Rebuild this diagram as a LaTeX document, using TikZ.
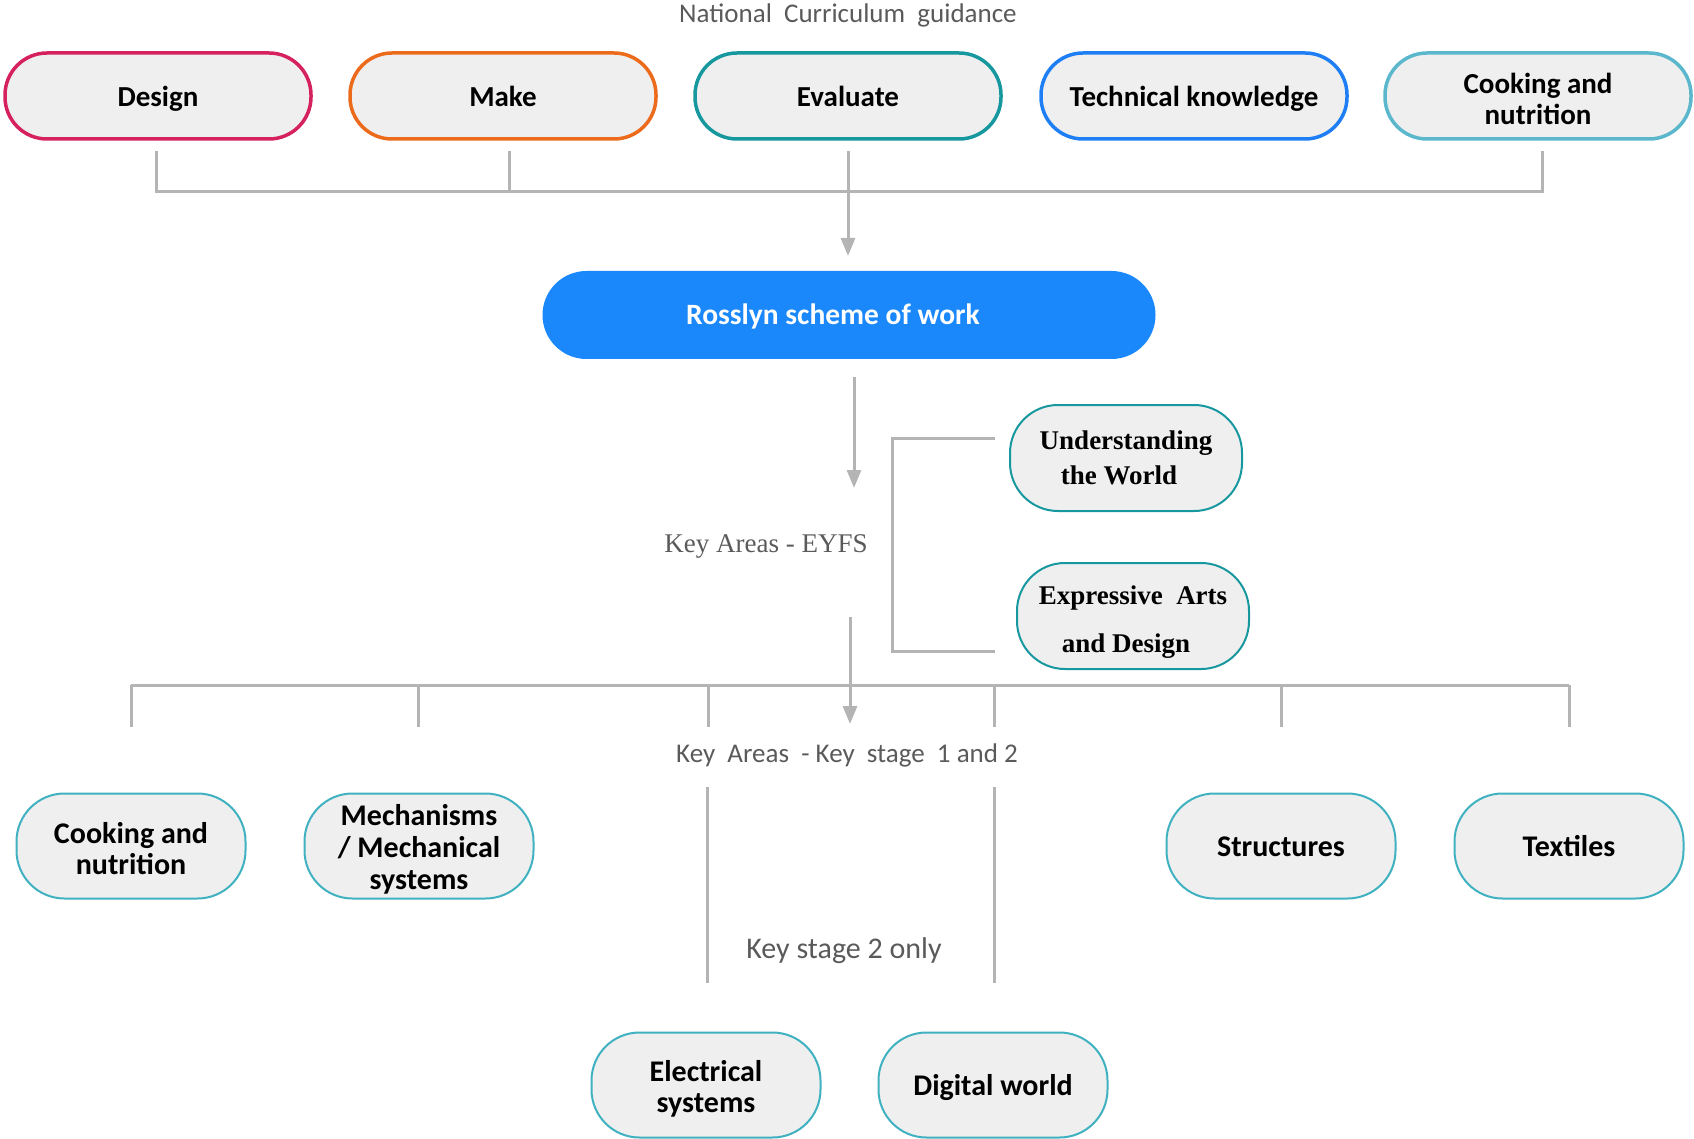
\documentclass[tikz,border=0pt]{standalone}
\usepackage{fontspec}
\setmainfont{Carlito}
\newfontfamily\timesf{Liberation Serif}
\usetikzlibrary{arrows.meta}
\definecolor{cDesign}{HTML}{D6215F}
\definecolor{cMake}{HTML}{EC6A1C}
\definecolor{cEval}{HTML}{17989F}
\definecolor{cTech}{HTML}{1E7FF5}
\definecolor{cCook}{HTML}{5AB7CC}
\definecolor{cBot}{HTML}{3FB1C0}
\definecolor{cFill}{HTML}{EFEFEF}
\definecolor{cRoss}{HTML}{1A88FA}
\definecolor{cLine}{HTML}{B4B4B4}
\definecolor{cText}{HTML}{5A5A5A}
\newcommand\myst[1]{\rule{0pt}{#1pt}}
\newcommand\mypad[1]{\rule{#1pt}{0pt}}
\tikzset{
  topbox/.style={draw, line width=3.5pt, fill=cFill, rounded corners=42pt,
    minimum width=306pt, minimum height=86pt, align=center,
    font=\fontsize{29}{30.5}\selectfont\bfseries, inner sep=0pt},
  oneline/.style={text height=26pt, text depth=5pt},
  botbox/.style={draw=cBot, line width=2pt, fill=cFill, rounded corners=48pt,
    minimum width=229pt, minimum height=105pt, align=center,
    font=\fontsize{30}{31}\selectfont\bfseries, inner sep=0pt},
  eyfsbox/.style={draw=cEval, line width=2pt, fill=cFill, rounded corners=48pt,
    minimum width=232pt, minimum height=106pt, align=center, inner sep=0pt},
  conn/.style={draw=cLine, line width=3pt},
  arr/.style={conn, -{Triangle[width=14pt,length=18pt]}, fill=cLine},
  greytext/.style={text=cText, font=\fontsize{27}{31}\selectfont, inner sep=0pt},
}
\begin{document}
\begin{tikzpicture}[x=1pt,y=-1pt]
\useasboundingbox (0,0) rectangle (1694,1139);
% title
\node[greytext] (nc) at (848,15) {National\ \ Curriculum\ \ guidance};
% top row
\node[topbox, oneline, draw=cDesign] (design) at (158,96) {Design};
\node[topbox, oneline, draw=cMake] (make) at (503,96) {Make};
\node[topbox, oneline, draw=cEval] (evaluate) at (848,96) {Evaluate};
\node[topbox, oneline, draw=cTech] (tech) at (1194,96) {Technical knowledge};
\node[topbox, draw=cCook] (cooktop) at (1538,96) {\myst{26}Cooking and\\nutrition};
% rosslyn
\node[fill=cRoss, rounded corners=44pt, minimum width=613pt, minimum height=88pt,
  text=white, font=\fontsize{29.5}{31}\selectfont\bfseries, inner sep=0pt,
  text height=25pt, text depth=5pt] (ross) at (849,315) {Rosslyn scheme of work\mypad{32}};
% top connectors
\coordinate (dA) at (156,151); \coordinate (dB) at (156,192);
\coordinate (mA) at (509,151); \coordinate (mB) at (509,192);
\coordinate (eA) at (848,151);
\coordinate (cA) at (1542,151); \coordinate (cB) at (1542,192);
\coordinate (rTip) at (848,256);
\draw[conn] (dA) -- (dB) -- (cB) -- (cA);
\draw[conn] (mA) -- (mB);
\draw[arr] (eA) -- (rTip);
% EYFS
\coordinate (r1) at (854,377); \coordinate (r2) at (854,488);
\draw[arr] (r1) -- (r2);
\node[greytext, font=\fontsize{27}{31}\selectfont\timesf] (eyfs) at (766,546) {Key Areas - EYFS};
\node[eyfsbox, font=\fontsize{27}{34.5}\selectfont\timesf\bfseries] (utw) at (1126,458) {Understanding\\the World\mypad{14}};
\node[eyfsbox, font=\fontsize{27}{48.5}\selectfont\timesf\bfseries] (ead) at (1133,616) {\myst{31}Expressive\ \ Arts\\and Design\mypad{14}};
\coordinate (bU) at (995,438); \coordinate (bU2) at (892,438);
\coordinate (bE) at (995,651); \coordinate (bE2) at (892,651);
\draw[conn] (bU) -- (bU2) -- (bE2) -- (bE);
% down arrow to KS
\coordinate (k1) at (850,617); \coordinate (k2) at (850,724);
\draw[arr] (k1) -- (k2);
% bus 2
\coordinate (b1) at (131,685); \coordinate (b6) at (1569,685);
\draw[conn] (b1) -- (b6);
\foreach \xx in {131,418,708,994,1281,1569}{
  \draw[conn] (\xx,685) -- (\xx,727);
}
\node[greytext] (ks) at (847,755) {Key\ \ Areas\ \ - Key\ \ stage\ \ 1 and\ 2};
\draw[conn] (707,787) -- (707,983);
\draw[conn] (994,787) -- (994,983);
\node[greytext, font=\fontsize{30}{31}\selectfont] (ks2) at (844,951) {Key stage 2 only};
% bottom nodes
\node[botbox] (cook) at (131,846) {\myst{26}Cooking and\\nutrition};
\node[botbox, font=\fontsize{30}{32}\selectfont\bfseries] (mech) at (419,846) {\myst{28}Mechanisms\\/ Mechanical\\systems};
\node[botbox, text height=27pt, text depth=6pt] (struct) at (1281,846) {Structures};
\node[botbox, text height=27pt, text depth=6pt] (text) at (1569,846) {Textiles};
\node[botbox] (elec) at (706,1085) {\myst{29}Electrical\\systems};
\node[botbox, text height=27pt, text depth=6pt] (digi) at (993,1085) {Digital world};
\end{tikzpicture}
\end{document}
